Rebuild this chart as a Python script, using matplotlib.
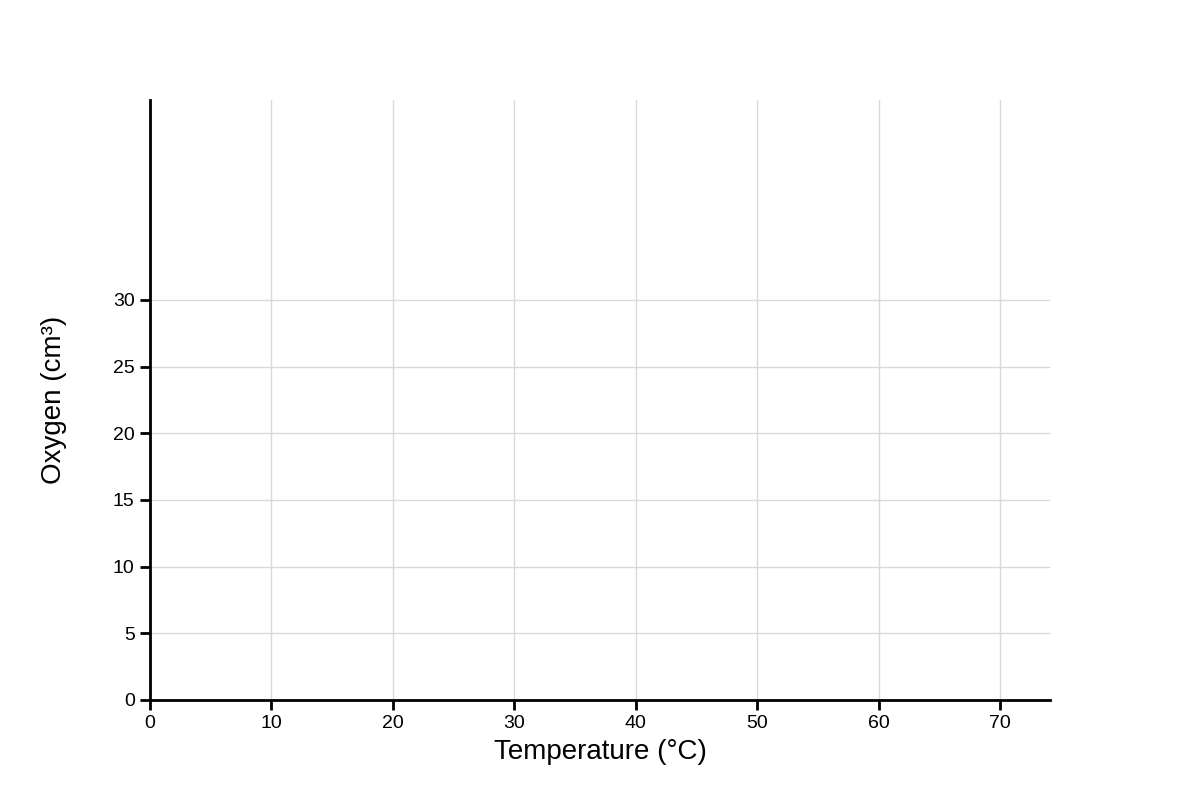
import matplotlib.pyplot as plt

# chart has axes only, no plotted series
x_ticks = [0, 10, 20, 30, 40, 50, 60, 70]
y_ticks = [0, 5, 10, 15, 20, 25, 30]
x_max = 74.1
y_max = 45

plt.rcParams['font.family'] = ['Liberation Sans', 'DejaVu Sans']

fig = plt.figure(figsize=(12, 8), dpi=100)
ax = fig.add_axes([0.125, 0.125, 0.75, 0.75])

ax.set_xlim(0, x_max)
ax.set_ylim(0, y_max)
ax.set_xticks(x_ticks)
ax.set_yticks(y_ticks)

# grid: vertical lines full height, horizontal only at tick values
for x in x_ticks:
    ax.axvline(x, color='#d9d9d9', lw=1, zorder=0)
for y in y_ticks:
    ax.axhline(y, color='#d9d9d9', lw=1, zorder=0)

for side in ['top', 'right']:
    ax.spines[side].set_visible(False)
for side in ['left', 'bottom']:
    ax.spines[side].set_linewidth(2)
    ax.spines[side].set_zorder(3)

ax.tick_params(axis='both', labelsize=14, width=2, length=7, direction='out', pad=4)

ax.set_xlabel('Temperature (°C)', fontsize=20)
ax.xaxis.set_label_coords(0.5, -0.065)
ax.set_ylabel('Oxygen (cm³)', fontsize=20)
ax.yaxis.set_label_coords(-0.092, 0.5)

fig.savefig('out.png', dpi=100)
